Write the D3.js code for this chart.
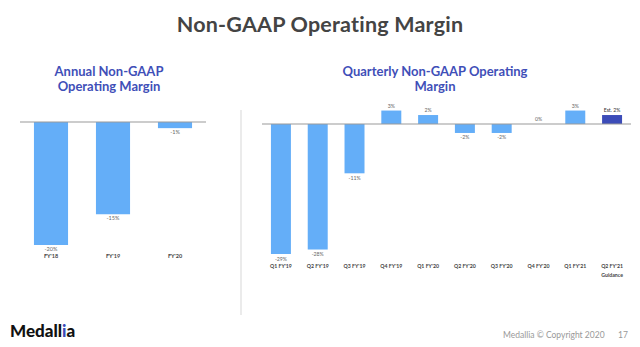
<!DOCTYPE html>
<html><head><meta charset="utf-8">
<script src="https://cdn.jsdelivr.net/npm/d3@7"></script>
<style>html,body{margin:0;padding:0;background:#fff;}svg{display:block;}</style>
</head><body>
<svg id="c" width="640" height="347"></svg>
<script>
const annualCategories = ["FY'18", "FY'19", "FY'20"];
const annualValues = [-20, -15, -1];
const annualLabels = ["-20%", "-15%", "-1%"];

const quarterCategories = ["Q1 FY'19", "Q2 FY'19", "Q3 FY'19", "Q4 FY'19", "Q1 FY'20", "Q2 FY'20", "Q3 FY'20", "Q4 FY'20", "Q1 FY'21", "Q2 FY'21"];
const quarterSubLabels = ["", "", "", "", "", "", "", "", "", "Guidance"];
const quarterValues = [-29, -28, -11, 3, 2, -2, -2, 0, 3, 2];
const quarterLabels = ["-29%", "-28%", "-11%", "3%", "2%", "-2%", "-2%", "0%", "3%", "Est. 2%"];
const quarterIsGuidance = [false, false, false, false, false, false, false, false, false, true];

const svg = d3.select("#c");
const FONT = "Lato, 'Open Sans', sans-serif";
const LIGHT = "#64aef8", DARK = "#3c4cb8", TITLE = "#444", SUB = "#3f4fb8";

svg.append("rect").attr("width", 640).attr("height", 347).attr("fill", "#fff");

svg.append("text").attr("x", 320).attr("y", 32).attr("text-anchor", "middle")
  .attr("font-family", FONT).attr("font-weight", 700).attr("font-size", 21.5)
  .attr("letter-spacing", 0.2)
  .attr("fill", TITLE).text("Non-GAAP Operating Margin");

function sub(x, lines) {
  lines.forEach((t, i) => svg.append("text").attr("x", x).attr("y", 76 + i * 15)
    .attr("text-anchor", "middle").attr("font-family", FONT).attr("font-weight", 700)
    .attr("font-size", 13).attr("fill", SUB).text(t));
}
sub(109, ["Annual Non-GAAP", "Operating Margin"]);
sub(435, ["Quarterly Non-GAAP Operating", "Margin"]);

// divider
svg.append("line").attr("x1", 241).attr("x2", 241).attr("y1", 110).attr("y2", 315)
  .attr("stroke", "#e4e4e4").attr("stroke-width", 1.5);

// Annual chart
const xA = d3.scaleBand().domain(annualCategories).range([20, 206]).paddingInner(0.45).paddingOuter(0.225);
const yA = d3.scaleLinear().domain([-20, 0]).range([245, 122]);
const gA = svg.append("g");
gA.selectAll("rect").data(annualValues).join("rect")
  .attr("x", (d, i) => xA(annualCategories[i])).attr("width", xA.bandwidth())
  .attr("y", d => yA(Math.max(0, d))).attr("height", d => Math.abs(yA(d) - yA(0)))
  .attr("fill", LIGHT);
gA.append("line").attr("x1", 20).attr("x2", 206).attr("y1", yA(0)).attr("y2", yA(0))
  .attr("stroke", "#9a9a9a").attr("stroke-width", 1.2);
gA.selectAll("text.v").data(annualValues).join("text").attr("class", "v")
  .attr("x", (d, i) => xA(annualCategories[i]) + xA.bandwidth() / 2)
  .attr("y", d => d < 0 ? yA(d) + 6 : yA(d) - 2.5)
  .attr("text-anchor", "middle").attr("font-family", FONT).attr("font-size", 5.5)
  .attr("fill", "#666").text((d, i) => annualLabels[i]);
const axA = d3.axisBottom(xA).tickSize(0).tickPadding(0);
const axAG = svg.append("g").attr("transform", "translate(0,254.5)").call(axA);
axAG.select(".domain").remove();
axAG.selectAll("text").attr("font-family", FONT).attr("font-weight", 700)
  .attr("font-size", 5.5).attr("fill", "#444");

// Quarterly chart
const xQ = d3.scaleBand().domain(quarterCategories).range([262, 631]).paddingInner(0.457).paddingOuter(0.243);
const yQ = d3.scaleLinear().domain([-29, 0]).range([254, 124]);
const gQ = svg.append("g");
gQ.selectAll("rect").data(quarterValues).join("rect")
  .attr("x", (d, i) => xQ(quarterCategories[i])).attr("width", xQ.bandwidth())
  .attr("y", d => yQ(Math.max(0, d))).attr("height", d => Math.abs(yQ(d) - yQ(0)))
  .attr("fill", (d, i) => quarterIsGuidance[i] ? DARK : LIGHT);
gQ.append("line").attr("x1", 262).attr("x2", 631).attr("y1", yQ(0)).attr("y2", yQ(0))
  .attr("stroke", "#9a9a9a").attr("stroke-width", 1.2);
gQ.selectAll("text.v").data(quarterValues).join("text").attr("class", "v")
  .attr("x", (d, i) => xQ(quarterCategories[i]) + xQ.bandwidth() / 2)
  .attr("y", d => d < 0 ? yQ(d) + 6.5 : yQ(d) - 3)
  .attr("text-anchor", "middle").attr("font-family", FONT).attr("font-size", 5.2)
  .attr("fill", (d, i) => quarterIsGuidance[i] ? "#333" : "#666")
  .text((d, i) => quarterLabels[i]);
const axQ = d3.axisBottom(xQ).tickSize(0).tickPadding(0);
const axQG = svg.append("g").attr("transform", "translate(0,264.5)").call(axQ);
axQG.select(".domain").remove();
axQG.selectAll("text").attr("font-family", FONT).attr("font-weight", 700)
  .attr("font-size", 5.2).attr("fill", "#444")
  .each(function(d, i) {
    const s = quarterSubLabels[i];
    if (s) d3.select(this.parentNode).append("text").attr("y", 12.5).attr("text-anchor", "middle")
      .attr("font-family", FONT).attr("font-weight", 700).attr("font-size", 5.2)
      .attr("fill", "#444").text(s);
  });

// footer
const logo = svg.append("text").attr("x", 10).attr("y", 337).attr("font-family", FONT)
  .attr("font-weight", 900).attr("font-size", 17).attr("fill", "#111");
logo.append("tspan").text("Medall");
logo.append("tspan").attr("fill", "#3c4cb8").text("i");
logo.append("tspan").text("a");
svg.append("text").attr("x", 503).attr("y", 338).attr("font-family", FONT)
  .attr("font-size", 8.5).attr("fill", "#999").text("Medallia © Copyright 2020");
svg.append("text").attr("x", 618).attr("y", 338).attr("font-family", FONT)
  .attr("font-size", 8.5).attr("fill", "#999").text("17");
</script>
</body></html>
